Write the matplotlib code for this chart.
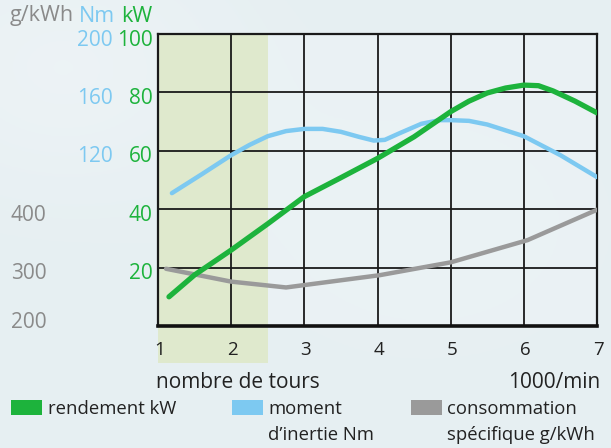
import matplotlib
matplotlib.use("Agg")
import matplotlib.pyplot as plt
import matplotlib.transforms as mtransforms
from matplotlib.patches import Rectangle
import numpy as np

# ---- data ----
power_x = [1.15, 1.5, 2.0, 2.5, 3.0, 3.5, 4.0, 4.5, 5.0, 5.25, 5.5, 5.75, 6.0, 6.2, 6.4, 6.7, 7.0]
power_kw = [10.0, 17.5, 26.0, 35.0, 44.3, 50.8, 57.4, 64.8, 73.4, 77.0, 79.8, 81.5, 82.5, 82.3, 80.5, 77.0, 73.0]

torque_x = [1.19, 1.6, 2.0, 2.25, 2.5, 2.75, 3.0, 3.25, 3.5, 3.75, 3.95, 4.1, 4.3, 4.6, 4.85, 5.0, 5.25, 5.5, 6.0, 6.5, 7.0]
torque_nm = [91, 104, 117, 124, 130, 133.5, 135, 135, 133, 129.5, 127, 127.5, 132, 138.5, 141, 141, 140.5, 138, 130, 117, 102]

cons_x = [1.11, 2.0, 2.75, 4.03, 5.0, 6.05, 7.0]
cons_g = [298, 276, 266, 287, 309, 347, 399]

x_ticks = [1, 2, 3, 4, 5, 6, 7]
kw_ticks = [20, 40, 60, 80, 100]
nm_ticks = [120, 160, 200]
g_ticks = [200, 300, 400]

GREEN = "#1db33c"
BLUE = "#7dc9f1"
GRAY = "#9a9a9a"
TXT = "#222222"
GTXT = "#8a8a8a"

plt.rcParams['font.family'] = ['Open Sans', 'DejaVu Sans']

fig = plt.figure(figsize=(6.11, 4.48), dpi=100)
fig.patch.set_facecolor("#e8f0f3")

# soft background gradient
bg = fig.add_axes([0, 0, 1, 1], zorder=-10)
yy, xx = np.mgrid[0:1:200j, 0:1:200j]
grad = 0.25 * np.exp(-((xx - 0.1) ** 2 + (yy - 0.15) ** 2) / 0.08) + 0.1 * np.exp(-((xx - 0.7) ** 2 + (yy - 0.5) ** 2) / 0.1)
base = np.array([0xe6, 0xef, 0xf2]) / 255.0
img = base[None, None, :] * (1 - grad[..., None]) + grad[..., None] * 1.0
bg.imshow(img, extent=[0, 1, 0, 1], aspect="auto", origin="upper")
bg.axis("off")

ax = fig.add_axes([158 / 611, 1 - 326 / 448, 439 / 611, 292 / 448])
ax.set_facecolor("#edf4f6")
ax.patch.set_alpha(0.6)
ax.set_xlim(1, 7)
ax.set_ylim(0, 100)

# shaded zone (extends below the axis)
shade = Rectangle((1, -12.5), 1.5, 112.5, facecolor="#dfe9cd", edgecolor="none",
                  transform=ax.transData, clip_on=False, zorder=0)
ax.add_patch(shade)

# grid
for xv in x_ticks[1:-1]:
    ax.axvline(xv, color="#1a1a1a", lw=1.3, zorder=1)
for yv in kw_ticks[:-1]:
    ax.axhline(yv, color="#1a1a1a", lw=1.3, zorder=1)
for side in ["top", "right", "left"]:
    ax.spines[side].set_linewidth(1.6)
    ax.spines[side].set_color("#1a1a1a")
ax.spines["bottom"].set_linewidth(2.6)
ax.spines["bottom"].set_color("#111111")

# curves
ax.plot(cons_x, [(g - 200) / 5.0 for g in cons_g], color=GRAY, lw=3.2, solid_capstyle="round", zorder=3)
ax.plot(torque_x, [n / 2.0 for n in torque_nm], color=BLUE, lw=3.2, solid_capstyle="round", zorder=4)
ax.plot(power_x, power_kw, color=GREEN, lw=3.8, solid_capstyle="round", zorder=5)

ax.set_xticks([])
ax.set_yticks([])

# y labels
ytr = mtransforms.offset_copy(ax.get_yaxis_transform(), fig=fig, y=-6, units="dots")
ytr_low = mtransforms.offset_copy(ax.get_yaxis_transform(), fig=fig, y=4, units="dots")
for v in kw_ticks:
    ax.text(-0.012, v, str(v), color=GREEN, fontsize=15, ha="right", va="center", transform=ytr)
for v in nm_ticks:
    ax.text(-0.103, v / 2.0, str(v), color=BLUE, fontsize=15, ha="right", va="center", transform=ytr)
for v in g_ticks:
    ax.text(-0.335, (v - 200) / 5.0, str(v), color=GTXT, fontsize=15, ha="left", va="center",
            transform=(ytr_low if v == 200 else ytr))

# header labels
fig.text(10 / 611, 1 - 16 / 448, "g/kWh", color=GTXT, fontsize=15.5, ha="left", va="center")
fig.text(79 / 611, 1 - 16 / 448, "Nm", color=BLUE, fontsize=15.5, ha="left", va="center")
fig.text(121 / 611, 1 - 16 / 448, "kW", color=GREEN, fontsize=15.5, ha="left", va="center")

# x tick labels
xtr = mtransforms.offset_copy(ax.get_xaxis_transform(), fig=fig, y=-24, units="dots")
for v in x_ticks:
    ax.text(v + 0.02, 0, str(v), color=TXT, fontsize=13.5, ha="center", va="center",
            transform=xtr)

fig.text(156 / 611, 1 - 382 / 448, "nombre de tours", color=TXT, fontsize=15, ha="left", va="center")
fig.text(600 / 611, 1 - 382 / 448, "1000/min", color=TXT, fontsize=15, ha="right", va="center")

# legend
def patch(x0, x1, color):
    fig.patches.append(Rectangle((x0 / 611, 1 - 415 / 448), (x1 - x0) / 611, 15 / 448,
                                 facecolor=color, edgecolor="none", transform=fig.transFigure, figure=fig))

patch(11, 42, GREEN)
patch(232, 263, BLUE)
patch(411, 442, GRAY)
LFS = 13.3
fig.text(48 / 611, 1 - 409 / 448, "rendement kW", color=TXT, fontsize=LFS, ha="left", va="center")
fig.text(268 / 611, 1 - 409 / 448, "moment", color=TXT, fontsize=LFS, ha="left", va="center")
fig.text(268 / 611, 1 - 435 / 448, "d\u2019inertie Nm", color=TXT, fontsize=LFS, ha="left", va="center")
fig.text(447 / 611, 1 - 409 / 448, "consommation", color=TXT, fontsize=LFS, ha="left", va="center")
fig.text(447 / 611, 1 - 435 / 448, "spécifique g/kWh", color=TXT, fontsize=LFS, ha="left", va="center")

fig.savefig("out.png", dpi=100, facecolor=fig.get_facecolor())
